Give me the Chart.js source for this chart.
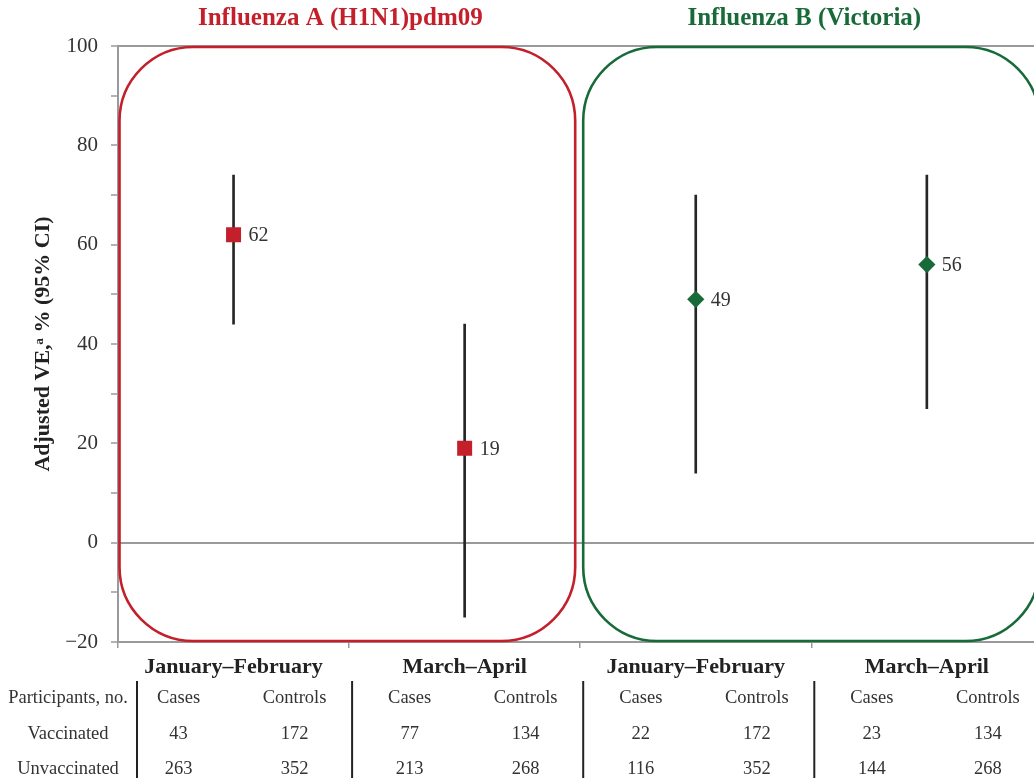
<!DOCTYPE html>
<html>
<head>
<meta charset="utf-8">
<script src="https://cdn.jsdelivr.net/npm/chart.js@4.4.1/dist/chart.umd.min.js"></script>
<style>
  html, body { margin: 0; padding: 0; background: #fff; overflow: hidden; }
  canvas { display: block; }
</style>
</head>
<body>
<canvas id="ve" width="1053" height="778"></canvas>
<script>
// Vaccine effectiveness by period and virus, with 95% confidence intervals
const periods = ['January–February', 'March–April', 'January–February', 'March–April'];
const virusGroups = ['Influenza A (H1N1)pdm09', 'Influenza B (Victoria)'];
const veEstimate = [62, 19, 49, 56];
const ciLower = [44, -15, 14, 27];
const ciUpper = [74, 44, 70, 74];
const yTicks = [-20, 0, 20, 40, 60, 80, 100];

// Participant counts shown under each period
const rowLabels = ['Participants, no.', 'Vaccinated', 'Unvaccinated'];
const colLabels = ['Cases', 'Controls'];
const vaccinatedCases = [43, 77, 22, 23];
const vaccinatedControls = [172, 134, 172, 134];
const unvaccinatedCases = [263, 213, 116, 144];
const unvaccinatedControls = [352, 268, 352, 268];

const RED = '#c3202b';
const GREEN = '#186b39';
const groupColors = [RED, GREEN];
const pointColors = [RED, RED, GREEN, GREEN];
const pointStyles = ['rect', 'rect', 'rectRot', 'rectRot'];
const pointSizes = [10.6, 10.6, 8.6, 8.6];
const AXIS_GREY = '#9a9a9e';
const TEXT = '#333333';
const SERIF = "'Liberation Serif', 'DejaVu Serif', serif";

// Rounded frames around each virus group, with the group name above
const groupFrames = {
  id: 'groupFrames',
  beforeDatasetsDraw(chart) {
    const { ctx, scales: { x, y }, chartArea } = chart;
    const half = (x.getPixelForValue(1) - x.getPixelForValue(0)) / 2;
    const top = y.getPixelForValue(100) + 1;
    const bottom = y.getPixelForValue(-20) - 1;
    const frames = [
      [chartArea.left + 1.5, x.getPixelForValue(1) + half - 5],
      [x.getPixelForValue(2) - half + 3, chartArea.right - 3]
    ];
    ctx.save();
    frames.forEach(([l, r], i) => {
      ctx.beginPath();
      ctx.roundRect(l, top, r - l, bottom - top, 74);
      ctx.lineWidth = 2.6;
      ctx.strokeStyle = groupColors[i];
      ctx.stroke();
      ctx.fillStyle = groupColors[i];
      ctx.font = "bold 25px " + SERIF;
      ctx.textAlign = 'center';
      ctx.textBaseline = 'middle';
      ctx.fillText(virusGroups[i], (l + r) / 2 - 7, 19);
    });
    ctx.restore();
  }
};

// Value labels beside each estimate, and the counts table below the axis
const labelsAndTable = {
  id: 'labelsAndTable',
  afterDraw(chart) {
    const { ctx, scales: { x, y } } = chart;
    const meta = chart.getDatasetMeta(1);
    ctx.save();
    ctx.fillStyle = TEXT;
    ctx.font = "20px " + SERIF;
    ctx.textAlign = 'left';
    ctx.textBaseline = 'middle';
    meta.data.forEach((pt, i) => {
      ctx.fillText(String(veEstimate[i]), pt.x + 15, pt.y + 1);
    });

    const half = (x.getPixelForValue(1) - x.getPixelForValue(0)) / 2;
    const rows = [698, 734, 769];
    ctx.font = "18.5px " + SERIF;
    ctx.textAlign = 'center';
    rowLabels.forEach((t, r) => ctx.fillText(t, 68, rows[r]));
    periods.forEach((p, i) => {
      const c = x.getPixelForValue(i);
      const cx = c - 55, kx = c + 61;
      ctx.fillText(colLabels[0], cx, rows[0]);
      ctx.fillText(colLabels[1], kx, rows[0]);
      ctx.fillText(String(vaccinatedCases[i]), cx, rows[1]);
      ctx.fillText(String(vaccinatedControls[i]), kx, rows[1]);
      ctx.fillText(String(unvaccinatedCases[i]), cx, rows[2]);
      ctx.fillText(String(unvaccinatedControls[i]), kx, rows[2]);
      const sx = i === 0 ? 137 : c - half + 3;
      ctx.beginPath();
      ctx.moveTo(sx, 681);
      ctx.lineTo(sx, 778);
      ctx.lineWidth = 2;
      ctx.strokeStyle = '#222';
      ctx.stroke();
    });
    ctx.restore();
  }
};

new Chart(document.getElementById('ve'), {
  type: 'bar',
  data: {
    labels: periods,
    datasets: [
      {
        label: '95% CI',
        data: ciLower.map((lo, i) => [lo, ciUpper[i]]),
        backgroundColor: '#262626',
        barThickness: 2,
        borderWidth: 0,
        order: 2
      },
      {
        type: 'line',
        label: 'Adjusted VE',
        data: veEstimate,
        showLine: false,
        pointStyle: pointStyles,
        pointRadius: pointSizes,
        pointHoverRadius: pointSizes,
        pointBackgroundColor: pointColors,
        pointBorderColor: pointColors,
        pointBorderWidth: 0,
        order: 1
      }
    ]
  },
  options: {
    responsive: false,
    animation: false,
    layout: { padding: { top: 46, right: 0, bottom: 0, left: 0 } },
    plugins: { legend: { display: false }, tooltip: { enabled: false } },
    scales: {
      x: {
        offset: true,
        afterFit(s) { s.height = 136; },
        border: { color: AXIS_GREY, width: 2 },
        grid: { offset: true, drawOnChartArea: false, tickLength: 6, color: AXIS_GREY, lineWidth: 1.5 },
        ticks: {
          color: '#222',
          padding: 6,
          maxRotation: 0,
          font: { family: SERIF, size: 22, weight: 'bold' }
        }
      },
      y: {
        min: -20,
        max: 100,
        afterFit(s) { s.width = 118; },
        border: { color: AXIS_GREY, width: 2 },
        grid: {
          color: (c) => (c.tick && (c.tick.value === 0 || c.tick.value === 100)) ? AXIS_GREY : 'rgba(0,0,0,0)',
          lineWidth: 2,
          tickColor: AXIS_GREY,
          tickLength: 7,
          tickWidth: 1.5
        },
        ticks: {
          stepSize: 10,
          color: TEXT,
          padding: 13,
          font: { family: SERIF, size: 21 },
          callback: (v) => yTicks.includes(v) ? (v < 0 ? '−' + Math.abs(v) : String(v)) : ''
        },
        title: {
          display: true,
          text: 'Adjusted VE,ᵃ % (95% CI)',
          color: '#222',
          padding: { top: 30, bottom: 0 },
          font: { family: SERIF, size: 22, weight: 'bold' }
        }
      }
    }
  },
  plugins: [groupFrames, labelsAndTable]
});
</script>
</body>
</html>
